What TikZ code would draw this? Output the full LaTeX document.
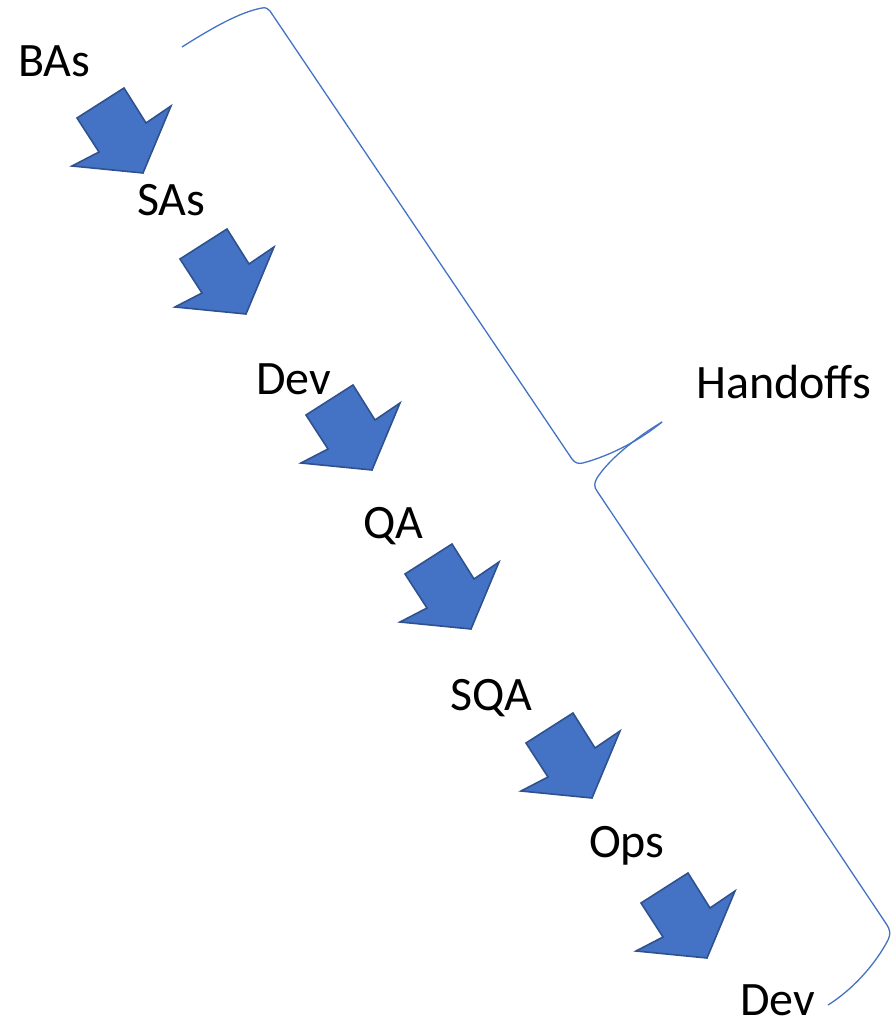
\documentclass[tikz,border=0pt]{standalone}
\usepackage{fontspec}
\setmainfont{Carlito}
\definecolor{arrfill}{HTML}{4472C4}
\definecolor{arrline}{HTML}{2F528F}
\definecolor{bracecol}{HTML}{4472C4}
\tikzset{
  lbl/.style={anchor=base west, inner sep=0pt, font=\fontsize{48}{52}\selectfont},
  blockarrow/.style={fill=arrfill, draw=arrline, line width=1.6pt, line join=miter},
  bracepath/.style={draw=bracecol, line width=1.3pt}
}
\begin{document}
\begin{tikzpicture}[x=1pt,y=-1pt]
\useasboundingbox (0,0) rectangle (892,1028);
% labels
\node[lbl] (bas) at (18,76) {BAs};
\node[lbl] (sas) at (137,215) {SAs};
\node[lbl] (dev1) at (256,394) {Dev};
\node[lbl] (qa) at (363,538) {QA};
\node[lbl] (sqa) at (450,710) {SQA};
\node[lbl] (ops) at (589,857) {Ops};
\node[lbl] (dev2) at (740,1015) {Dev};
\node[lbl] (hand) at (696,398) {Handoffs};
% block arrows
\foreach \x/\y in {124/88, 227/229, 353/385, 452/544, 573/713, 688/873}{
  \draw[blockarrow, shift={(\x,\y)}]
    (0,0) -- (22,35) -- (47,18) -- (19,85) -- (-52,78) -- (-25,64) -- (-47,30) -- cycle;
}
% brace
\coordinate (b0) at (182,47);
\coordinate (btip) at (662,422);
\coordinate (bend) at (828,1005);
\draw[bracepath]
  (b0) .. controls (212,28) and (240,12) .. (262,8)
  .. controls (266,7) and (268,9) .. (270,11)
  -- (572,459)
  .. controls (575,463) and (578,464) .. (583,463)
  .. controls (612,455) and (640,440) .. (btip);
\draw[bracepath]
  (btip) .. controls (632,440) and (607,462) .. (597,478)
  .. controls (594,483) and (594,487) .. (597,491)
  -- (887,925)
  .. controls (890,930) and (891,934) .. (888,940)
  .. controls (875,965) and (852,990) .. (bend);
\end{tikzpicture}
\end{document}
